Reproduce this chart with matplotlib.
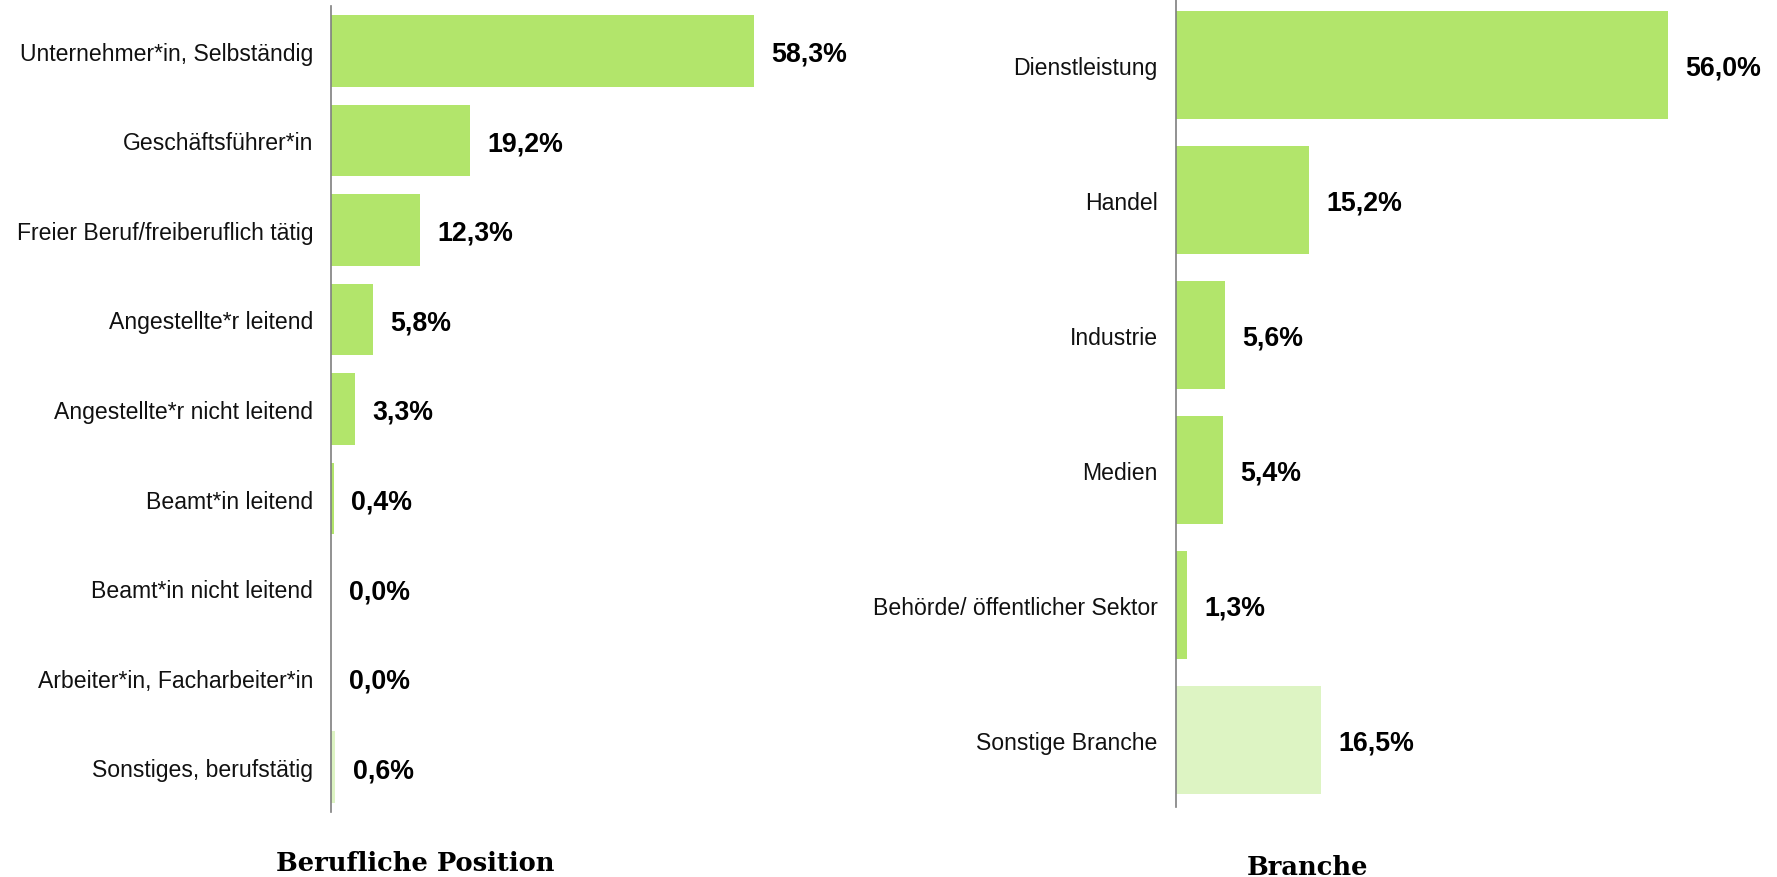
import matplotlib
matplotlib.use("Agg")
import matplotlib.pyplot as plt

# ---- data ----
pos_labels = ["Unternehmer*in, Selbständig", "Geschäftsführer*in",
              "Freier Beruf/freiberuflich tätig", "Angestellte*r leitend",
              "Angestellte*r nicht leitend", "Beamt*in leitend",
              "Beamt*in nicht leitend", "Arbeiter*in, Facharbeiter*in",
              "Sonstiges, berufstätig"]
pos_values = [58.3, 19.2, 12.3, 5.8, 3.3, 0.4, 0.0, 0.0, 0.6]

br_labels = ["Dienstleistung", "Handel", "Industrie", "Medien",
             "Behörde/ öffentlicher Sektor", "Sonstige Branche"]
br_values = [56.0, 15.2, 5.6, 5.4, 1.3, 16.5]

title_left = "Berufliche Position"
title_right = "Branche"

GREEN = "#b2e56b"
LIGHT = "#ddf4c3"
SPINE = "#7f7f7f"

plt.rcParams['font.family'] = ['Liberation Sans', 'DejaVu Sans']

W, H = 1777, 878
fig = plt.figure(figsize=(W / 100, H / 100), dpi=100)


def fmt(v):
    return f"{v:.1f}%".replace(".", ",")


def draw(ax, labels, values, xmax, pad):
    n = len(labels)
    ys = list(range(n))
    colors = [GREEN] * (n - 1) + [LIGHT]
    ax.barh(ys, values, height=0.8, color=colors, edgecolor='none')
    ax.set_ylim(n - 0.5, -0.5)
    ax.set_xlim(0, xmax)
    ax.set_yticks(ys)
    ax.set_yticklabels(labels, fontsize=16.6, color="#111111")
    ax.tick_params(axis='y', length=0, pad=pad)
    ax.set_xticks([])
    for s in ['top', 'right', 'bottom']:
        ax.spines[s].set_visible(False)
    ax.spines['left'].set_color(SPINE)
    ax.spines['left'].set_linewidth(1.2)
    for y, v in zip(ys, values):
        ax.annotate(fmt(v), xy=(v, y), xytext=(12.6, 0), textcoords='offset points',
                    ha='left', va='center_baseline', fontsize=19.3, fontweight='bold',
                    color='black')


# left panel
axL = fig.add_axes([331 / W, (H - 813) / H, 508 / W, 806 / H])
draw(axL, pos_labels, pos_values, 70, 12.9)

# right panel
axR = fig.add_axes([1175.7 / W, (H - 808.2) / H, 571 / W, 810 / H])
draw(axR, br_labels, br_values, 65, 13.0)

fig.text(415.5 / W, (H - 870.7) / H, title_left, ha='center', va='baseline',
         fontsize=18.5, fontweight='bold', family='DejaVu Serif', color='black')
fig.text(1307 / W, (H - 875) / H, title_right, ha='center', va='baseline',
         fontsize=18.5, fontweight='bold', family='DejaVu Serif', color='black')

fig.savefig("out.png", dpi=100, facecolor='white')
